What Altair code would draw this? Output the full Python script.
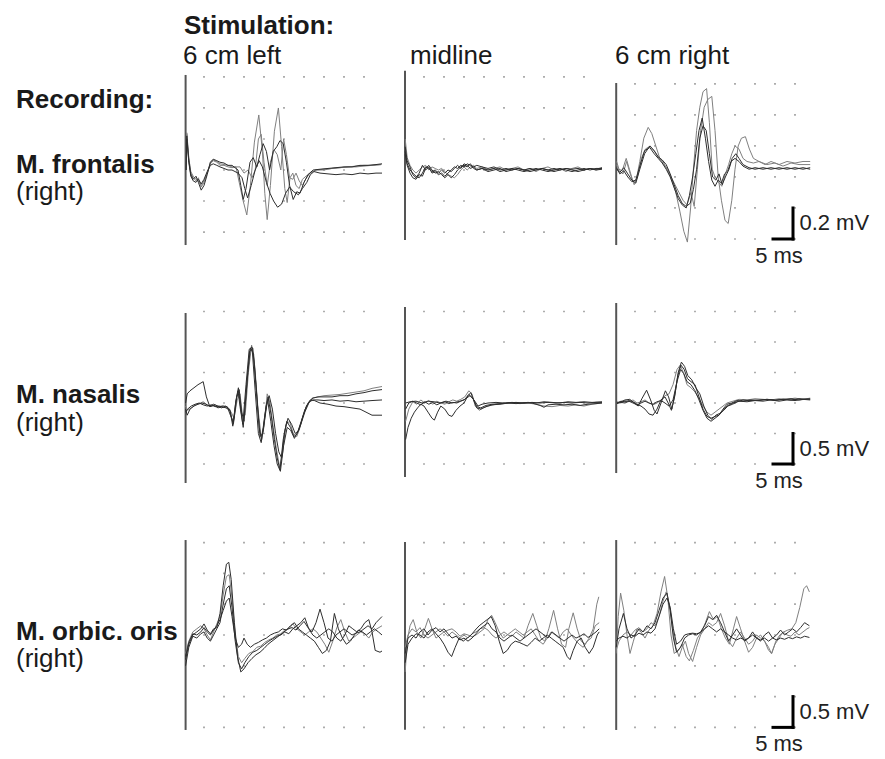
import altair as alt
import pandas as pd

# ---------------- text ----------------
stim_title = "Stimulation:"
rec_title = "Recording:"
col_labels = ["6 cm left", "midline", "6 cm right"]
row_labels = ["M. frontalis", "M. nasalis", "M. orbic. oris"]
side_label = "(right)"
scale_mv_labels = ["0.2 mV", "0.5 mV", "0.5 mV"]
scale_ms_label = "5 ms"

# ---------------- grid (ms, mV) ----------------
grid_t = [5, 10, 15, 20, 25, 30, 35, 40, 45]
grid_v = [
    [-0.4, -0.2, 0.0, 0.2, 0.4, 0.6],
    [-1.0, -0.5, 0.0, 0.5, 1.0, 1.5],
    [-1.5, -1.0, -0.5, 0.0, 0.5, 1.0, 1.5],
]
scale_div_mv = [0.2, 0.5, 0.5]
scale_bottom_mv = [-0.4, -1.0, -1.5]
scale_ms = [39.5, 44.5]

# stimulus artifact (ms, top mV, bottom mV)
artifact_t = [0.4, 0.25, 0.3]
artifact_top = [[0.613, 0.64, 0.606], [1.475, 1.574, 1.639], [1.542, 1.51, 1.542]]
artifact_bottom = [[-0.484, -0.452, -0.439], [-1.311, -1.213, -1.148], [-1.542, -1.54, -1.542]]

# ---------------- traces: (ms, mV) ----------------
# M. frontalis, 6 cm left
fl_a = [(0.5, 0.0), (0.7, 0.24), (1.2, 0.08), (1.7, -0.02), (2.3, -0.05), (3.0, -0.07), (3.6, -0.05), (4.3, -0.11), (5.0, -0.08), (5.8, -0.02), (6.6, 0.04), (7.3, 0.06), (8.2, 0.05), (9.0, 0.03), (10, 0.03), (11, 0.02), (12, 0.015), (13, 0.02),
        (13.8, -0.08), (14.8, -0.2), (15.7, -0.29), (16.6, -0.1), (17.6, 0.18), (18.7, 0.355), (19.6, 0.12), (20.2, -0.15), (20.8, -0.32), (21.6, -0.1), (22.6, 0.25), (23.6, 0.4), (24.4, 0.15), (25.2, -0.12), (25.8, -0.21), (26.5, -0.05), (27.2, -0.02), (28.0, -0.1), (28.8, -0.12), (29.6, -0.06), (30.5, -0.04), (31.5, -0.02), (33, 0.0), (35, 0.005), (37, 0.01), (39, 0.015), (41, 0.02), (43, 0.02), (45, 0.025), (47, 0.03), (49.3, 0.035)]
fl_b = [(0.5, 0.0), (0.7, 0.22), (1.2, 0.06), (1.7, -0.03), (2.3, -0.06), (3.0, -0.04), (3.6, -0.08), (4.3, -0.13), (5.0, -0.1), (5.8, -0.03), (6.6, 0.05), (7.3, 0.07), (8.2, 0.06), (9.0, 0.05), (10, 0.045), (11, 0.03), (12, 0.03),
        (13.5, 0.0), (14.2, -0.1), (14.8, -0.19), (15.5, -0.12), (16.5, 0.05), (17.3, 0.08), (18.2, 0.02), (19.0, 0.1), (19.8, 0.17), (20.6, 0.12), (21.4, 0.0), (22.3, 0.12), (23.2, 0.15), (24.0, 0.19), (24.8, 0.17), (25.6, 0.05), (26.4, -0.1), (27.3, -0.19), (28.2, -0.14), (29.0, -0.15), (30.0, -0.08), (31.0, -0.03), (32.3, 0.0), (34, 0.005), (36, 0.01), (38, 0.015), (40, 0.02), (42, 0.02), (44, 0.03), (46, 0.03), (48, 0.035), (49.5, 0.04)]
fl_c = [(0.5, 0.0), (0.7, 0.2), (1.2, 0.05), (1.7, -0.04), (2.3, -0.07), (3.0, -0.08), (3.6, -0.06), (4.3, -0.09), (5.0, -0.06), (5.8, -0.01), (6.6, 0.03), (7.3, 0.04), (8.2, 0.03), (9.0, 0.02), (10, 0.01), (11, 0.0), (12, 0.0),
        (13.5, -0.02), (14.5, -0.05), (15.2, -0.12), (15.9, -0.18), (16.8, -0.1), (17.8, 0.0), (18.8, 0.06), (19.6, 0.02), (20.6, -0.08), (21.5, -0.15), (22.4, -0.2), (23.4, -0.24), (24.4, -0.22), (25.4, -0.15), (26.4, -0.11), (27.4, -0.14), (28.6, -0.16), (29.6, -0.12), (30.7, -0.08), (31.6, -0.03), (32.5, -0.01), (34, -0.02), (36, -0.025), (38, -0.03), (40, -0.025), (42, -0.03), (44, -0.02), (46, -0.025), (48, -0.02), (49.5, -0.02)]
fl_d = [(0.5, 0.0), (0.7, 0.23), (1.2, 0.07), (1.7, -0.01), (2.3, -0.04), (3.0, -0.06), (3.6, -0.07), (4.3, -0.1), (5.0, -0.07), (5.8, -0.02), (6.6, 0.05), (7.3, 0.065), (8.2, 0.055), (9.0, 0.04), (10, 0.035), (11, 0.03), (12, 0.02), (13, 0.02),
        (14, 0.02), (15, -0.02), (16, 0.0), (17, -0.05), (17.8, 0.0), (18.6, 0.2), (19.3, 0.23), (20.0, 0.05), (20.8, -0.1), (21.6, 0.05), (22.5, 0.13), (23.3, 0.1), (24.2, 0.0), (24.9, 0.2), (25.6, 0.1), (26.4, -0.05), (27.2, -0.06), (28.0, -0.02), (28.8, -0.07), (29.6, -0.1), (30.4, -0.06), (31.5, -0.02), (33, 0.0), (35, 0.0), (37, 0.01), (39, 0.015), (41, 0.02), (43, 0.025), (45, 0.03), (47, 0.03), (49.3, 0.035)]

# M. frontalis, midline
fm_a = [(0.3, 0.15), (0.8, 0.06), (1.5, 0.02), (2.2, -0.03), (3.0, -0.05), (3.8, -0.02), (4.6, 0.03), (5.4, 0.0), (6.2, 0.02), (7.0, -0.02), (7.8, -0.01), (8.6, -0.03), (9.4, -0.02), (10.2, -0.04), (11.0, -0.02), (11.8, 0.0), (12.6, 0.02), (13.4, 0.01), (14.2, 0.03), (15.0, 0.02), (15.8, 0.04), (16.6, 0.03), (17.4, 0.02), (18.2, 0.03), (19.5, 0.02), (21, 0.01), (22.5, 0.02), (24, 0.0), (25.5, 0.01), (27, 0.0), (28.5, 0.01), (30, 0.0), (31.5, 0.01), (33, 0.0), (34.5, 0.01), (36, 0.0), (37.5, 0.01), (39, 0.0), (40.5, 0.01), (42, 0.005), (43.5, 0.01), (45, 0.0), (46.5, 0.01), (48, 0.005), (49.5, 0.015)]
fm_b = [(0.3, 0.1), (0.8, 0.03), (1.5, -0.02), (2.2, -0.05), (3.0, -0.06), (3.8, -0.03), (4.6, -0.04), (5.4, 0.01), (6.2, 0.03), (7.0, 0.0), (7.8, -0.02), (8.6, -0.01), (9.4, -0.03), (10.2, -0.05), (11.0, -0.03), (11.8, -0.05), (12.6, -0.03), (13.4, 0.0), (14.2, 0.02), (15.0, 0.03), (15.8, 0.02), (16.6, 0.04), (17.4, 0.01), (18.2, 0.0), (19.5, 0.01), (21, 0.0), (22.5, 0.01), (24, -0.01), (25.5, 0.0), (27, 0.01), (28.5, 0.0), (30, -0.01), (31.5, 0.0), (33, 0.01), (34.5, 0.0), (36, -0.01), (37.5, 0.0), (39, 0.01), (40.5, 0.0), (42, -0.01), (43.5, 0.0), (45, 0.01), (46.5, 0.0), (48, 0.01), (49.5, 0.01)]
fm_c = [(0.3, 0.2), (0.8, 0.08), (1.5, 0.03), (2.2, 0.0), (3.0, -0.02), (3.8, 0.0), (4.6, 0.02), (5.4, 0.03), (6.2, 0.0), (7.0, 0.02), (7.8, 0.01), (8.6, 0.0), (9.4, 0.01), (10.2, -0.01), (11.0, -0.03), (11.8, -0.04), (12.6, -0.05), (13.4, -0.03), (14.2, 0.0), (15.0, 0.02), (15.8, 0.0), (16.6, 0.02), (17.4, 0.03), (18.2, 0.01), (19.5, 0.02), (21, 0.0), (22.5, 0.01), (24, 0.02), (25.5, 0.0), (27, 0.01), (28.5, 0.02), (30, 0.0), (31.5, 0.01), (33, -0.01), (34.5, 0.01), (36, 0.02), (37.5, 0.0), (39, 0.01), (40.5, -0.01), (42, 0.01), (43.5, 0.02), (45, 0.0), (46.5, 0.01), (48, 0.0), (49.5, 0.01)]
fm_d = [(0.3, 0.12), (0.8, 0.04), (1.5, 0.0), (2.2, -0.02), (3.0, -0.04), (3.8, -0.05), (4.6, -0.02), (5.4, 0.02), (6.2, 0.01), (7.0, -0.01), (7.8, 0.0), (8.6, -0.02), (9.4, 0.0), (10.2, -0.02), (11.0, 0.0), (11.8, -0.01), (12.6, 0.01), (13.4, 0.03), (14.2, 0.01), (15.0, 0.04), (15.8, 0.03), (16.6, 0.01), (17.4, 0.02), (18.2, 0.0), (19.5, 0.01), (21, -0.01), (22.5, 0.0), (24, 0.01), (25.5, -0.01), (27, 0.0), (28.5, 0.01), (30, 0.0), (31.5, -0.01), (33, 0.0), (34.5, 0.01), (36, 0.0), (37.5, -0.01), (39, 0.0), (40.5, 0.01), (42, 0.0), (43.5, -0.01), (45, 0.0), (46.5, 0.01), (48, 0.0), (49.5, 0.005)]

# M. frontalis, 6 cm right
fr_a = [(0.4, 0.1), (1.0, 0.05), (1.8, 0.04), (2.8, 0.12), (3.6, 0.05), (4.5, -0.03), (5.3, -0.02), (6.2, 0.1), (7.2, 0.25), (8.3, 0.32), (9.2, 0.28), (10.2, 0.2), (11.2, 0.12), (12.2, 0.08), (13.2, 0.05), (14.2, -0.02), (15.2, -0.1), (16.2, -0.22), (17.2, -0.35), (18.1, -0.42), (18.9, -0.2), (19.6, 0.05), (20.4, 0.3), (21.2, 0.45), (22.0, 0.55), (22.9, 0.57), (23.6, 0.35), (24.3, 0.05), (25.0, 0.0), (25.8, -0.03), (26.7, -0.06), (27.6, 0.02), (28.4, 0.08), (29.2, 0.15), (30.0, 0.2), (31.0, 0.18), (32.0, 0.12), (33.0, 0.1), (34.6, 0.09), (36, 0.1), (37.5, 0.08), (39, 0.1), (41, 0.08), (43, 0.1), (45, 0.09), (47, 0.1), (48.8, 0.1)]
fr_b = [(0.4, 0.08), (1.0, 0.04), (2.0, 0.02), (2.9, 0.1), (3.8, 0.02), (4.8, -0.05), (5.6, 0.0), (6.6, 0.12), (7.6, 0.18), (8.8, 0.2), (10, 0.16), (11, 0.12), (12, 0.1), (13, 0.05), (14, 0.0), (15, -0.05), (16, -0.1), (17, -0.15), (18, -0.18), (19, -0.1), (19.8, -0.19), (20.6, 0.05), (21.4, 0.3), (22.3, 0.45), (23.2, 0.5), (24.2, 0.52), (25.0, 0.3), (25.8, 0.0), (26.6, -0.15), (27.5, -0.28), (28.3, -0.3), (29.2, -0.15), (30.0, 0.05), (30.8, 0.2), (31.6, 0.25), (32.6, 0.26), (33.6, 0.18), (34.6, 0.12), (36, 0.1), (38, 0.08), (40, 0.09), (42, 0.07), (44, 0.09), (46, 0.08), (48.8, 0.08)]
fr_c = [(0.4, 0.05), (1.2, 0.03), (2.2, 0.06), (3.2, 0.02), (4.2, -0.02), (5.2, -0.04), (6.2, 0.05), (7.4, 0.15), (8.7, 0.2), (9.8, 0.17), (10.8, 0.13), (11.8, 0.11), (12.8, 0.08), (13.8, 0.02), (14.8, -0.05), (15.8, -0.12), (16.8, -0.17), (17.8, -0.19), (18.8, -0.17), (19.6, -0.08), (20.4, 0.05), (21.2, 0.25), (22.0, 0.33), (22.8, 0.3), (23.6, 0.15), (24.4, 0.0), (25.2, -0.02), (26.0, 0.02), (26.8, -0.05), (27.6, 0.0), (28.5, 0.05), (29.3, 0.12), (30.2, 0.15), (31, 0.12), (32, 0.08), (33.5, 0.06), (35, 0.05), (37, 0.06), (39, 0.05), (41, 0.06), (43, 0.05), (45, 0.06), (47, 0.05), (48.8, 0.06)]
fr_d = [(0.4, 0.06), (1.2, 0.02), (2.2, 0.04), (3.2, 0.0), (4.2, -0.03), (5.2, -0.02), (6.2, 0.07), (7.4, 0.17), (8.7, 0.19), (9.8, 0.15), (10.8, 0.12), (11.8, 0.09), (12.8, 0.05), (13.8, 0.0), (14.8, -0.07), (15.8, -0.14), (16.8, -0.18), (17.8, -0.2), (18.6, -0.12), (19.4, 0.0), (20.2, 0.15), (21.0, 0.3), (21.8, 0.38), (22.6, 0.25), (23.4, 0.1), (24.2, -0.02), (25.0, -0.06), (25.8, -0.02), (26.6, -0.04), (27.4, 0.02), (28.2, 0.04), (29.0, 0.1), (30, 0.12), (31, 0.1), (32, 0.07), (33.5, 0.05), (35, 0.06), (37, 0.05), (39, 0.06), (41, 0.05), (43, 0.06), (45, 0.05), (47, 0.06), (48.8, 0.05)]

# M. nasalis, 6 cm left
nl_a = [(0.4, 0.0), (0.8, 0.15), (1.5, 0.2), (2.5, 0.25), (3.5, 0.3), (4.8, 0.35), (5.6, 0.1), (6.4, -0.05), (7.4, -0.02), (8.4, -0.05), (9.4, -0.08), (10.4, -0.05), (11.4, -0.1), (12.3, -0.35), (13.0, 0.05), (13.6, 0.25), (14.2, -0.1), (14.8, -0.4), (15.6, 0.2), (16.4, 0.85), (17.2, 0.9), (18.0, 0.3), (18.8, -0.4), (19.4, -0.6), (20.2, -0.2), (21.0, 0.1), (21.8, -0.2), (22.6, -0.6), (23.3, -0.9), (24.0, -1.1), (24.8, -0.6), (25.7, -0.3), (26.6, -0.4), (27.5, -0.55), (28.3, -0.5), (29.2, -0.35), (30.2, -0.15), (31.2, 0.0), (32.2, 0.08), (33.5, 0.1), (35, 0.1), (37, 0.1), (39, 0.12), (41, 0.12), (43, 0.15), (45, 0.17), (47, 0.2), (49.5, 0.22)]
nl_b = [(0.4, -0.1), (0.8, -0.2), (1.5, -0.1), (2.5, -0.05), (3.5, -0.02), (4.5, 0.0), (5.5, -0.02), (6.5, -0.06), (7.5, -0.04), (8.5, -0.08), (9.5, -0.06), (10.5, -0.08), (11.5, -0.12), (12.2, -0.38), (12.9, 0.0), (13.5, 0.2), (14.1, -0.1), (14.7, -0.35), (15.5, 0.3), (16.3, 0.88), (17.0, 0.92), (17.8, 0.2), (18.6, -0.5), (19.3, -0.65), (20.1, -0.3), (20.9, 0.05), (21.7, -0.3), (22.5, -0.7), (23.3, -1.0), (24.1, -1.12), (24.9, -0.7), (25.8, -0.4), (26.7, -0.45), (27.6, -0.58), (28.4, -0.48), (29.3, -0.3), (30.3, -0.1), (31.3, 0.02), (32.3, 0.05), (33.5, 0.05), (35, 0.04), (37, 0.05), (39, 0.03), (41, 0.04), (43, 0.02), (45, 0.03), (47, 0.04), (49.5, 0.05)]
nl_c = [(0.4, -0.15), (0.9, -0.1), (1.8, -0.05), (2.8, -0.02), (3.8, 0.0), (4.8, -0.03), (5.8, -0.05), (6.8, -0.03), (7.8, -0.06), (8.8, -0.05), (9.8, -0.07), (10.8, -0.06), (11.6, -0.2), (12.4, -0.32), (13.2, 0.1), (13.8, 0.22), (14.4, -0.15), (15.0, -0.3), (15.8, 0.4), (16.6, 0.9), (17.4, 0.8), (18.2, 0.1), (19.0, -0.55), (19.7, -0.5), (20.5, -0.05), (21.3, 0.12), (22.1, -0.1), (22.9, -0.5), (23.7, -0.8), (24.4, -0.9), (25.2, -0.45), (26.0, -0.25), (26.9, -0.35), (27.8, -0.5), (28.7, -0.45), (29.6, -0.25), (30.6, -0.05), (31.6, 0.05), (32.6, 0.04), (34, 0.0), (36, -0.02), (38, -0.05), (40, -0.06), (42, -0.08), (44, -0.1), (45.5, -0.15), (47, -0.2), (49.5, -0.2)]
nl_d = [(0.4, -0.05), (0.9, -0.12), (1.8, -0.08), (2.8, -0.03), (3.8, -0.01), (4.8, 0.02), (5.8, -0.03), (6.8, -0.05), (7.8, -0.03), (8.8, -0.06), (9.8, -0.04), (10.8, -0.07), (11.8, -0.15), (12.5, -0.25), (13.3, 0.05), (14.0, 0.15), (14.6, -0.2), (15.3, -0.2), (16.1, 0.5), (16.9, 0.95), (17.7, 0.6), (18.5, -0.1), (19.3, -0.55), (20.0, -0.4), (20.8, 0.15), (21.5, 0.0), (22.3, -0.4), (23.1, -0.75), (23.9, -1.05), (24.7, -0.8), (25.5, -0.35), (26.4, -0.3), (27.3, -0.5), (28.2, -0.55), (29.0, -0.4), (30.0, -0.15), (31.0, 0.0), (32.0, 0.08), (33.5, 0.1), (35, 0.12), (37, 0.13), (39, 0.14), (41, 0.16), (43, 0.18), (45, 0.2), (47, 0.24), (49.5, 0.27)]

# M. nasalis, midline
nm_a = [(0.4, 0.0), (1.5, 0.02), (3, 0.03), (4.5, 0.0), (6, 0.03), (7.5, 0.02), (9, 0.0), (10.5, 0.03), (12, 0.0), (13.5, 0.02), (15, 0.05), (16.5, 0.12), (17.5, 0.05), (18.5, -0.05), (19.5, -0.02), (21, 0.0), (23, 0.01), (25, 0.0), (27, 0.01), (29, 0.0), (31, 0.01), (33, 0.0), (35, 0.02), (37, 0.01), (39, 0.0), (41, 0.02), (43, 0.01), (45, 0.02), (47, 0.01), (49.5, 0.02)]
nm_b = [(0.4, -0.6), (1.0, -0.4), (1.8, -0.25), (2.6, -0.15), (3.4, -0.08), (4.2, -0.02), (5.0, -0.05), (6.0, -0.15), (7.0, -0.25), (7.6, -0.28), (8.4, -0.15), (9.2, -0.05), (10.2, -0.1), (11.2, -0.2), (12.0, -0.22), (13.0, -0.12), (14.0, -0.05), (15.0, 0.0), (16.0, 0.12), (16.7, 0.17), (17.4, 0.05), (18.2, -0.08), (19.2, -0.1), (20.5, -0.06), (22, -0.03), (24, -0.02), (26, 0.0), (28, -0.01), (30, 0.0), (32, 0.0), (34, -0.04), (35, -0.07), (36, -0.03), (38, -0.02), (40, -0.03), (42, -0.02), (44, -0.04), (46, -0.02), (48, -0.01), (49.5, 0.0)]
nm_c = [(0.4, -0.3), (1.2, -0.1), (2.2, 0.02), (3.2, -0.02), (4.2, 0.05), (5.2, 0.0), (6.2, 0.04), (7.2, -0.02), (8.2, 0.03), (9.2, 0.0), (10.2, -0.02), (11.2, 0.02), (12.2, 0.05), (13.2, 0.03), (14.2, 0.06), (15.2, 0.1), (16.2, 0.2), (17.0, 0.15), (17.8, -0.05), (18.8, -0.12), (19.8, -0.08), (21, -0.05), (23, -0.02), (25, -0.01), (27, 0.0), (29, -0.01), (31, 0.0), (33, -0.02), (35, -0.05), (37, -0.06), (39, -0.04), (41, -0.05), (43, -0.03), (45, -0.05), (47, -0.02), (49.5, 0.0)]
nm_d = [(0.4, -0.1), (1.2, 0.0), (2.2, 0.03), (3.2, 0.0), (4.2, -0.03), (5.2, 0.02), (6.2, -0.02), (7.2, 0.01), (8.2, -0.03), (9.2, 0.0), (10.2, 0.02), (11.2, -0.01), (12.2, 0.01), (13.2, 0.0), (14.2, 0.03), (15.2, 0.06), (16.2, 0.14), (17.2, 0.08), (18.2, -0.06), (19.2, -0.08), (20.5, -0.04), (22, -0.02), (24, -0.01), (26, 0.0), (28, 0.01), (30, 0.0), (32, 0.01), (34, 0.0), (36, 0.01), (38, 0.0), (40, 0.01), (42, 0.0), (44, 0.01), (46, 0.0), (48, 0.01), (49.5, 0.01)]

# M. nasalis, 6 cm right
nr_a = [(0.5, 0.0), (1.5, 0.02), (2.5, 0.05), (3.7, 0.06), (4.8, 0.0), (5.8, -0.05), (6.8, 0.08), (7.9, 0.21), (8.9, 0.05), (9.8, -0.12), (10.5, -0.18), (11.5, 0.0), (12.6, 0.2), (13.4, 0.1), (14.2, -0.1), (15.0, 0.15), (15.8, 0.5), (16.6, 0.67), (17.4, 0.6), (18.2, 0.45), (19.2, 0.38), (20.2, 0.25), (21.2, 0.15), (22.2, -0.05), (23.2, -0.2), (24.2, -0.27), (25.2, -0.2), (26.2, -0.17), (27.2, -0.12), (28.2, -0.05), (29.4, -0.02), (30.6, 0.02), (32, 0.05), (34, 0.04), (36, 0.05), (38, 0.06), (40, 0.05), (42, 0.06), (44, 0.05), (46, 0.07), (48.8, 0.06)]
nr_b = [(0.5, 0.0), (1.5, 0.03), (2.5, 0.02), (3.5, 0.04), (4.5, 0.02), (5.5, -0.02), (6.5, -0.05), (7.5, -0.1), (8.5, -0.18), (9.5, -0.2), (10.5, -0.1), (11.5, 0.05), (12.5, 0.1), (13.3, 0.0), (14.1, -0.12), (14.9, 0.1), (15.7, 0.45), (16.5, 0.62), (17.3, 0.55), (18.1, 0.4), (19.0, 0.35), (20.0, 0.3), (21.0, 0.1), (22.0, -0.1), (23.0, -0.22), (24.0, -0.25), (25.0, -0.22), (26.0, -0.2), (27.0, -0.1), (28.0, -0.02), (29.2, 0.0), (30.5, 0.04), (32, 0.03), (34, 0.05), (36, 0.04), (38, 0.06), (40, 0.04), (42, 0.06), (44, 0.07), (46, 0.05), (48.8, 0.07)]
nr_c = [(0.5, 0.02), (1.5, 0.0), (2.5, 0.04), (3.5, 0.02), (4.5, 0.05), (5.5, 0.0), (6.5, 0.02), (7.5, 0.05), (8.5, 0.0), (9.5, -0.03), (10.5, 0.0), (11.5, 0.05), (12.5, 0.12), (13.5, 0.15), (14.5, 0.3), (15.5, 0.55), (16.3, 0.62), (17.1, 0.5), (18.0, 0.3), (19.0, 0.25), (20.0, 0.18), (21.0, 0.08), (22.0, -0.05), (23.0, -0.15), (24.0, -0.2), (25.0, -0.15), (26.0, -0.1), (27.0, -0.05), (28.0, 0.0), (29.5, 0.03), (31, 0.06), (33, 0.05), (35, 0.07), (37, 0.06), (39, 0.05), (41, 0.07), (43, 0.06), (45, 0.08), (47, 0.06), (48.8, 0.08)]
nr_d = [(0.5, -0.01), (1.5, 0.01), (2.5, 0.0), (3.5, 0.03), (4.5, 0.0), (5.5, -0.03), (6.5, 0.0), (7.5, 0.03), (8.5, 0.0), (9.5, -0.02), (10.5, 0.02), (11.5, 0.04), (12.5, 0.0), (13.5, -0.05), (14.5, 0.05), (15.5, 0.35), (16.4, 0.55), (17.2, 0.48), (18.0, 0.35), (19.0, 0.3), (20.0, 0.2), (21.0, 0.05), (22.0, -0.12), (23.0, -0.25), (24.0, -0.3), (25.0, -0.25), (26.0, -0.2), (27.0, -0.12), (28.0, -0.05), (29.5, 0.0), (31, 0.03), (33, 0.02), (35, 0.04), (37, 0.03), (39, 0.05), (41, 0.03), (43, 0.05), (45, 0.04), (47, 0.06), (48.8, 0.05)]

# M. orbicularis oris, 6 cm left
ol_a = [(0.4, -0.4), (1.2, -0.15), (2.2, 0.0), (3.2, 0.05), (4.2, 0.1), (5.0, 0.18), (5.8, 0.08), (6.6, 0.02), (7.4, 0.1), (8.2, 0.12), (9.0, 0.35), (9.8, 0.8), (10.6, 1.15), (11.2, 1.18), (11.8, 0.9), (12.6, 0.2), (13.4, -0.35), (14.2, -0.6), (15.0, -0.55), (16.0, -0.45), (17.0, -0.38), (18.0, -0.32), (19.0, -0.28), (20, -0.22), (21, -0.15), (22, -0.1), (23, -0.05), (24, 0.0), (25, 0.05), (26, 0.1), (27, 0.12), (28, 0.08), (29, 0.15), (30, 0.22), (31, 0.12), (32, 0.05), (33, 0.2), (34, 0.42), (35, 0.2), (36, -0.05), (37, -0.1), (38, 0.0), (39, 0.05), (40, 0.1), (41, 0.05), (42, 0.0), (43, 0.03), (44, 0.05), (45, 0.1), (46, 0.15), (47, 0.1), (48, 0.2), (49.5, 0.3)]
ol_b = [(0.4, -0.3), (1.2, -0.1), (2.2, 0.05), (3.2, 0.1), (4.2, 0.15), (5.0, 0.1), (5.8, 0.0), (6.6, -0.08), (7.4, 0.05), (8.2, 0.18), (9.0, 0.3), (9.8, 0.65), (10.6, 0.95), (11.3, 0.98), (12.0, 0.6), (12.8, 0.0), (13.6, -0.35), (14.4, -0.45), (15.2, -0.38), (16.2, -0.3), (17.2, -0.27), (18.2, -0.2), (19.2, -0.18), (20.2, -0.12), (21.2, -0.08), (22.2, -0.05), (23.2, 0.0), (24.2, 0.02), (25.2, 0.08), (26.2, 0.1), (27.2, 0.18), (28.2, 0.1), (29.2, 0.05), (30.2, 0.0), (31.2, 0.05), (32.2, 0.1), (33.2, 0.05), (34.2, -0.05), (35.2, -0.15), (36.2, -0.28), (37.2, -0.1), (38.2, 0.12), (39.2, 0.25), (40.2, 0.05), (41.2, -0.1), (42.2, -0.05), (43.2, 0.0), (44.2, 0.05), (45.2, 0.02), (46.2, -0.05), (47.2, 0.05), (48.2, 0.1), (49.5, 0.15)]
ol_c = [(0.4, -0.35), (1.2, -0.12), (2.2, 0.02), (3.2, 0.0), (4.2, 0.05), (5.0, 0.12), (5.8, 0.05), (6.6, 0.0), (7.4, 0.08), (8.2, 0.15), (9.0, 0.25), (9.8, 0.4), (10.6, 0.55), (11.3, 0.6), (12.0, 0.3), (12.8, -0.05), (13.6, -0.2), (14.4, -0.15), (15.0, -0.05), (15.8, -0.15), (16.6, -0.2), (17.6, -0.15), (18.6, -0.12), (19.6, -0.08), (20.6, -0.05), (21.6, 0.0), (22.6, 0.03), (23.6, 0.05), (24.6, 0.1), (25.6, 0.08), (26.6, 0.15), (27.6, 0.2), (28.6, 0.1), (29.6, 0.05), (30.6, 0.0), (31.6, -0.05), (32.6, -0.1), (33.6, -0.2), (34.6, -0.3), (35.6, -0.25), (36.6, -0.1), (37.6, 0.35), (38.6, 0.1), (39.6, -0.05), (40.6, -0.15), (41.6, -0.1), (42.6, 0.0), (43.6, 0.08), (44.6, 0.05), (45.6, 0.0), (46.6, 0.05), (47.6, 0.1), (48.6, 0.05), (49.5, 0.0)]
ol_d = [(0.4, -0.5), (1.2, -0.2), (2.2, -0.02), (3.2, -0.05), (4.2, 0.02), (5.0, 0.05), (5.8, -0.05), (6.6, -0.1), (7.4, 0.0), (8.2, 0.1), (9.0, 0.2), (9.8, 0.5), (10.6, 0.75), (11.3, 0.8), (12.0, 0.45), (12.8, -0.1), (13.6, -0.45), (14.4, -0.55), (15.2, -0.45), (16.2, -0.35), (17.2, -0.28), (18.2, -0.25), (19.2, -0.2), (20.2, -0.15), (21.2, -0.1), (22.2, -0.06), (23.2, -0.02), (24.2, 0.0), (25.2, 0.05), (26.2, 0.02), (27.2, 0.1), (28.2, 0.15), (29.2, 0.2), (30.2, 0.28), (31.2, 0.1), (32.2, 0.0), (33.2, -0.05), (34.2, 0.0), (35.2, 0.05), (36.2, 0.1), (37.2, 0.05), (38.2, -0.05), (39.2, -0.1), (40.2, 0.0), (41.2, 0.15), (42.2, 0.1), (43.2, 0.05), (44.2, 0.1), (45.2, 0.2), (46.2, 0.25), (47.0, 0.05), (47.8, -0.25), (49.0, -0.28), (49.5, -0.26)]

# M. orbicularis oris, midline
om_a = [(0.3, -0.6), (0.8, -0.1), (1.5, 0.15), (2.3, 0.25), (3.2, 0.05), (4.2, -0.05), (5.2, 0.1), (6.1, 0.27), (7.0, 0.1), (8.0, -0.05), (9.0, 0.0), (10, 0.05), (11, -0.02), (12, 0.05), (13, 0.0), (14, -0.05), (15, 0.0), (16, -0.05), (17, 0.02), (18, 0.05), (19, 0.1), (20, 0.12), (21, 0.08), (22, 0.0), (23, -0.05), (24, 0.0), (25, 0.05), (26, 0.0), (27, -0.02), (28, 0.05), (29, 0.0), (30, -0.05), (31, 0.15), (32.2, 0.35), (33.2, 0.15), (34.2, -0.05), (35.2, -0.1), (36.2, 0.1), (37.4, 0.4), (38.4, 0.1), (39.4, -0.15), (40.4, -0.2), (41.2, 0.1), (42.3, 0.36), (43.3, 0.1), (44.3, -0.1), (45.3, -0.15), (46.3, -0.05), (47.3, 0.1), (48.2, 0.5), (48.7, 0.62)]
om_b = [(0.3, -0.3), (1.0, -0.05), (2.0, 0.0), (3.0, -0.05), (4.0, 0.05), (5.0, 0.1), (6.0, 0.0), (7.0, 0.08), (8.0, 0.12), (9.0, 0.05), (10.0, 0.1), (11.0, 0.02), (12.0, -0.05), (13.0, -0.02), (14.0, -0.08), (15.0, -0.05), (16.0, -0.1), (17.0, -0.05), (18.0, 0.02), (19.0, 0.1), (20.0, 0.15), (21.0, 0.2), (22.0, 0.1), (23.0, 0.05), (24.0, -0.05), (25.0, -0.1), (26.0, -0.05), (27.0, 0.0), (28.0, -0.05), (29.0, -0.1), (30.0, -0.05), (31.0, 0.0), (32.0, 0.05), (33.0, 0.1), (34.0, 0.05), (35.0, 0.0), (36.0, -0.05), (37.0, 0.05), (38.0, 0.0), (39.0, -0.05), (40.0, -0.1), (41.0, -0.05), (42.0, 0.0), (43.0, -0.05), (44.0, -0.02), (45.0, 0.02), (46.0, -0.04), (47.0, 0.0), (48.0, 0.05), (48.8, 0.1)]
om_c = [(0.3, -0.45), (1.0, -0.15), (2.0, -0.05), (3.0, 0.02), (4.0, 0.0), (5.0, -0.05), (6.0, 0.05), (7.0, 0.1), (8.0, 0.02), (9.0, -0.05), (10.0, -0.15), (11.0, -0.28), (11.9, -0.35), (12.8, -0.2), (13.8, -0.05), (14.8, -0.1), (15.8, -0.05), (16.8, 0.0), (17.8, 0.08), (18.8, 0.15), (19.8, 0.2), (20.8, 0.25), (21.8, 0.3), (22.8, 0.15), (23.8, -0.1), (24.8, -0.3), (25.8, -0.25), (26.8, -0.15), (27.8, -0.1), (28.8, -0.12), (29.8, -0.15), (30.8, -0.18), (31.8, -0.12), (32.8, -0.05), (33.8, -0.1), (34.8, -0.05), (35.8, 0.0), (36.8, -0.05), (37.8, -0.1), (38.8, -0.15), (39.8, -0.2), (40.8, -0.35), (41.5, -0.4), (42.3, -0.25), (43.3, -0.1), (44.3, -0.05), (45.3, -0.2), (46.3, -0.3), (47.3, -0.2), (48.3, 0.0), (48.8, 0.05)]
om_d = [(0.3, -0.2), (1.0, 0.0), (2.0, 0.1), (3.0, 0.05), (4.0, 0.12), (5.0, 0.0), (6.0, -0.05), (7.0, 0.0), (8.0, 0.05), (9.0, 0.1), (10.0, 0.05), (11.0, 0.08), (12.0, 0.1), (13.0, 0.05), (14.0, -0.02), (15.0, 0.02), (16.0, 0.0), (17.0, -0.03), (18.0, 0.0), (19.0, 0.05), (20.0, 0.1), (21.0, 0.25), (21.9, 0.32), (22.8, 0.2), (23.8, 0.05), (24.8, -0.05), (25.8, 0.0), (26.8, 0.05), (27.8, 0.1), (28.8, 0.05), (29.8, 0.0), (30.8, 0.05), (31.8, 0.1), (32.8, 0.0), (33.8, -0.1), (34.8, -0.15), (35.8, -0.05), (36.8, 0.05), (37.8, 0.0), (38.8, -0.05), (39.8, 0.05), (40.8, 0.1), (41.8, 0.0), (42.8, -0.08), (43.8, -0.15), (44.8, -0.2), (45.8, -0.1), (46.8, -0.05), (47.8, 0.15), (48.8, 0.2)]

# M. orbicularis oris, 6 cm right
or_a = [(0.3, -0.3), (0.8, 0.3), (1.4, 0.68), (2.2, 0.4), (3.0, 0.0), (3.75, -0.3), (4.6, -0.1), (5.5, 0.1), (6.5, 0.05), (7.5, -0.05), (8.5, 0.08), (9.5, 0.15), (10.5, 0.35), (11.5, 0.7), (12.4, 0.95), (13.2, 0.6), (14.0, 0.0), (14.8, -0.3), (15.8, -0.25), (16.8, -0.15), (17.8, -0.35), (18.6, -0.42), (19.6, -0.25), (20.6, -0.05), (21.6, 0.05), (22.6, 0.2), (23.6, 0.38), (24.6, 0.25), (25.6, 0.3), (26.6, 0.1), (27.6, -0.05), (28.6, -0.15), (29.6, 0.1), (30.4, 0.3), (31.4, 0.1), (32.4, -0.1), (33.4, -0.28), (34.4, -0.2), (35.4, -0.05), (36.4, 0.0), (37.4, -0.1), (38.4, -0.25), (39.2, -0.3), (40.2, -0.1), (41.2, 0.0), (42.2, 0.05), (43.2, 0.08), (44.2, 0.1), (45.2, 0.2), (46.2, 0.45), (47.2, 0.75), (47.9, 0.8), (48.6, 0.7)]
or_b = [(0.3, -0.2), (1.0, 0.1), (2.1, 0.35), (3.0, 0.1), (4.0, -0.05), (5.0, 0.0), (6.0, 0.1), (7.0, 0.05), (8.0, 0.15), (9.0, 0.1), (10.0, 0.2), (11.0, 0.4), (12.0, 0.6), (13.0, 0.68), (13.8, 0.4), (14.6, -0.05), (15.4, -0.28), (16.4, -0.2), (17.4, -0.05), (18.4, 0.0), (19.4, 0.02), (20.4, 0.0), (21.4, 0.05), (22.4, 0.15), (23.4, 0.3), (24.4, 0.25), (25.4, 0.32), (26.4, 0.2), (27.4, 0.05), (28.4, -0.1), (29.4, 0.0), (30.4, 0.1), (31.4, 0.0), (32.4, -0.1), (33.4, -0.05), (34.4, 0.05), (35.4, -0.05), (36.4, -0.1), (37.4, 0.0), (38.4, 0.05), (39.4, -0.05), (40.4, 0.0), (41.4, 0.08), (42.4, 0.0), (43.4, 0.05), (44.4, 0.1), (45.4, 0.05), (46.4, 0.12), (47.4, 0.2), (48.6, 0.15)]
or_c = [(0.3, -0.1), (1.0, -0.05), (2.0, -0.02), (3.0, -0.05), (4.0, 0.0), (5.0, -0.02), (6.0, 0.03), (7.0, 0.0), (8.0, 0.05), (9.0, 0.03), (10.0, 0.1), (11.0, 0.3), (12.0, 0.5), (13.0, 0.6), (13.8, 0.45), (14.6, 0.1), (15.4, -0.15), (16.4, -0.1), (17.4, 0.0), (18.4, 0.02), (19.4, 0.03), (20.4, 0.02), (21.4, 0.04), (22.4, 0.1), (23.4, 0.15), (24.4, 0.1), (25.4, 0.05), (26.4, 0.1), (27.4, 0.05), (28.4, 0.0), (29.4, -0.05), (30.4, -0.08), (31.4, -0.05), (32.4, -0.08), (33.4, -0.05), (34.4, 0.0), (35.4, -0.05), (36.4, -0.08), (37.4, -0.05), (38.4, -0.1), (39.4, -0.05), (40.4, -0.08), (41.4, -0.05), (42.4, -0.07), (43.4, -0.04), (44.4, -0.06), (45.4, -0.03), (46.4, -0.05), (47.4, -0.02), (48.6, -0.04)]
or_d = [(0.3, -0.25), (1.0, -0.1), (2.0, 0.0), (3.0, 0.05), (4.0, 0.0), (5.0, 0.08), (6.0, 0.12), (7.0, 0.05), (8.0, 0.1), (9.0, 0.2), (10.0, 0.15), (11.0, 0.3), (12.0, 0.55), (12.8, 0.7), (13.6, 0.5), (14.4, 0.1), (15.2, -0.2), (16.0, -0.35), (16.8, -0.2), (17.6, -0.1), (18.4, -0.3), (19.4, -0.43), (20.4, -0.2), (21.4, 0.0), (22.4, 0.1), (23.4, 0.2), (24.4, 0.15), (25.4, 0.2), (26.4, 0.35), (27.4, 0.15), (28.4, -0.1), (29.4, -0.19), (30.4, -0.05), (31.4, 0.05), (32.4, -0.05), (33.4, -0.15), (34.4, -0.1), (35.4, 0.0), (36.4, -0.05), (37.4, -0.1), (38.4, -0.2), (39.1, -0.3), (40.0, -0.15), (41.0, -0.05), (42.0, 0.05), (43.0, 0.0), (44.0, -0.02), (45.0, 0.05), (46.0, 0.0), (47.0, 0.05), (48.0, 0.1), (48.6, 0.12)]

panel_traces = {
    (0, 0): [(fl_a, "light"), (fl_b, "dark"), (fl_c, "dark"), (fl_d, "light")],
    (0, 1): [(fm_a, "dark"), (fm_b, "dark"), (fm_c, "light"), (fm_d, "dark")],
    (0, 2): [(fr_a, "light"), (fr_b, "light"), (fr_c, "dark"), (fr_d, "dark")],
    (1, 0): [(nl_a, "dark"), (nl_b, "dark"), (nl_c, "dark"), (nl_d, "light")],
    (1, 1): [(nm_a, "dark"), (nm_b, "dark"), (nm_c, "light"), (nm_d, "dark")],
    (1, 2): [(nr_a, "dark"), (nr_b, "dark"), (nr_c, "light"), (nr_d, "dark")],
    (2, 0): [(ol_a, "dark"), (ol_b, "light"), (ol_c, "dark"), (ol_d, "dark")],
    (2, 1): [(om_a, "light"), (om_b, "dark"), (om_c, "dark"), (om_d, "light")],
    (2, 2): [(or_a, "light"), (or_b, "dark"), (or_c, "dark"), (or_d, "light")],
}

# ---------------- layout ----------------
FONT = "Liberation Sans"
label_w = 176
col_w = [220, 211, 262]
col_xmax = [55.0, 52.75, 65.5]
header_h = 62
row_h = [180, 250, 240]
y_dom = [
    [[-0.516, 0.645], [-0.516, 0.645], [-0.471, 0.690]],
    [[-1.59, 2.508], [-1.59, 2.508], [-1.59, 2.508]],
    [[-1.705, 2.192], [-1.705, 2.192], [-1.705, 2.192]],
]
DARK = "#2e2e2e"
LIGHT = "#808080"


def traces_df(r, c, shade):
    frames = []
    for k, (tr, sh) in enumerate(panel_traces[(r, c)]):
        if sh != shade:
            continue
        d = pd.DataFrame(tr, columns=["t", "v"])
        d["trace"] = k
        frames.append(d)
    return pd.concat(frames, ignore_index=True)


def panel(r, c):
    xs = alt.Scale(domain=[0, col_xmax[c]], nice=False, zero=False)
    ys = alt.Scale(domain=y_dom[r][c], nice=False, zero=False)
    X = lambda f: alt.X(f, type="quantitative", scale=xs, axis=None)
    Y = lambda f: alt.Y(f, type="quantitative", scale=ys, axis=None)

    dots_df = pd.DataFrame([(t, v) for v in grid_v[r] for t in grid_t], columns=["t", "v"])
    dots = alt.Chart(dots_df).mark_square(size=3, color="#a0a0a0", opacity=1).encode(x=X("t"), y=Y("v"))

    art_df = pd.DataFrame({"t": [artifact_t[c]], "top": [artifact_top[r][c]], "bot": [artifact_bottom[r][c]]})
    art = alt.Chart(art_df).mark_rule(color="#555555", strokeWidth=2).encode(x=X("t"), y=Y("top"), y2="bot")

    light = alt.Chart(traces_df(r, c, "light")).mark_line(color=LIGHT, strokeWidth=1).encode(
        x=X("t"), y=Y("v"), detail="trace:N")
    dark = alt.Chart(traces_df(r, c, "dark")).mark_line(color=DARK, strokeWidth=1).encode(
        x=X("t"), y=Y("v"), detail="trace:N")
    layers = [dots, art, light, dark]

    if c == 2:
        b = scale_bottom_mv[r]
        bar_df = pd.DataFrame({
            "t1": [scale_ms[0], scale_ms[1]], "t2": [scale_ms[1], scale_ms[1]],
            "v1": [b, b], "v2": [b, b + scale_div_mv[r]],
        })
        bar = alt.Chart(bar_df).mark_rule(color="black", strokeWidth=3, strokeCap="square").encode(
            x=X("t1"), x2="t2", y=Y("v1"), y2="v2")
        mv_df = pd.DataFrame({"t": [scale_ms[1] + 1.6], "v": [b + scale_div_mv[r] / 2], "s": [scale_mv_labels[r]]})
        mv = alt.Chart(mv_df).mark_text(font=FONT, fontSize=22, align="left", baseline="middle", color="#222").encode(
            x=X("t"), y=Y("v"), text="s:N")
        ms_df = pd.DataFrame({"t": [(scale_ms[0] + scale_ms[1]) / 2 - 1.0], "v": [b], "s": [scale_ms_label]})
        ms = alt.Chart(ms_df).mark_text(font=FONT, fontSize=22, align="center", baseline="alphabetic", dy=24, color="#222").encode(
            x=X("t"), y=Y("v"), text="s:N")
        layers += [bar, mv, ms]
    return alt.layer(*layers).properties(width=col_w[c], height=row_h[r])


def text_layer(s, x, y, bold=False, size=26):
    return alt.Chart(pd.DataFrame({"s": [s]})).mark_text(
        font=FONT, fontSize=size, fontWeight="bold" if bold else "normal",
        align="left", baseline="alphabetic", color="#1a1a1a").encode(
        x=alt.value(x), y=alt.value(y), text="s:N")


label_pos = [(103, 130), (153, 181), (140, 167)]


def label_chart(r):
    layers = []
    if r == 0:
        layers.append(text_layer(rec_title, 8, 38, bold=True))
    layers.append(text_layer(row_labels[r], 8, label_pos[r][0], bold=True))
    layers.append(text_layer(side_label, 8, label_pos[r][1]))
    return alt.layer(*layers).properties(width=label_w, height=row_h[r])


header_cells = [
    text_layer(" ", 10, 40, size=10).properties(width=label_w, height=header_h),
    alt.layer(text_layer(stim_title, 0, 26, bold=True), text_layer(col_labels[0], -1, 56)).properties(width=col_w[0], height=header_h),
    text_layer(col_labels[1], 6, 56).properties(width=col_w[1], height=header_h),
    text_layer(col_labels[2], 0, 56).properties(width=col_w[2], height=header_h),
]

cells = list(header_cells)
for r in range(3):
    cells += [label_chart(r), panel(r, 0), panel(r, 1), panel(r, 2)]

chart = alt.concat(*cells, columns=4, spacing=0, bounds="flush", align="each").properties(
    padding=0, background="white"
).configure_view(stroke=None, strokeWidth=0)

chart.save("out.html", embed_options={"renderer": "svg", "actions": False})
